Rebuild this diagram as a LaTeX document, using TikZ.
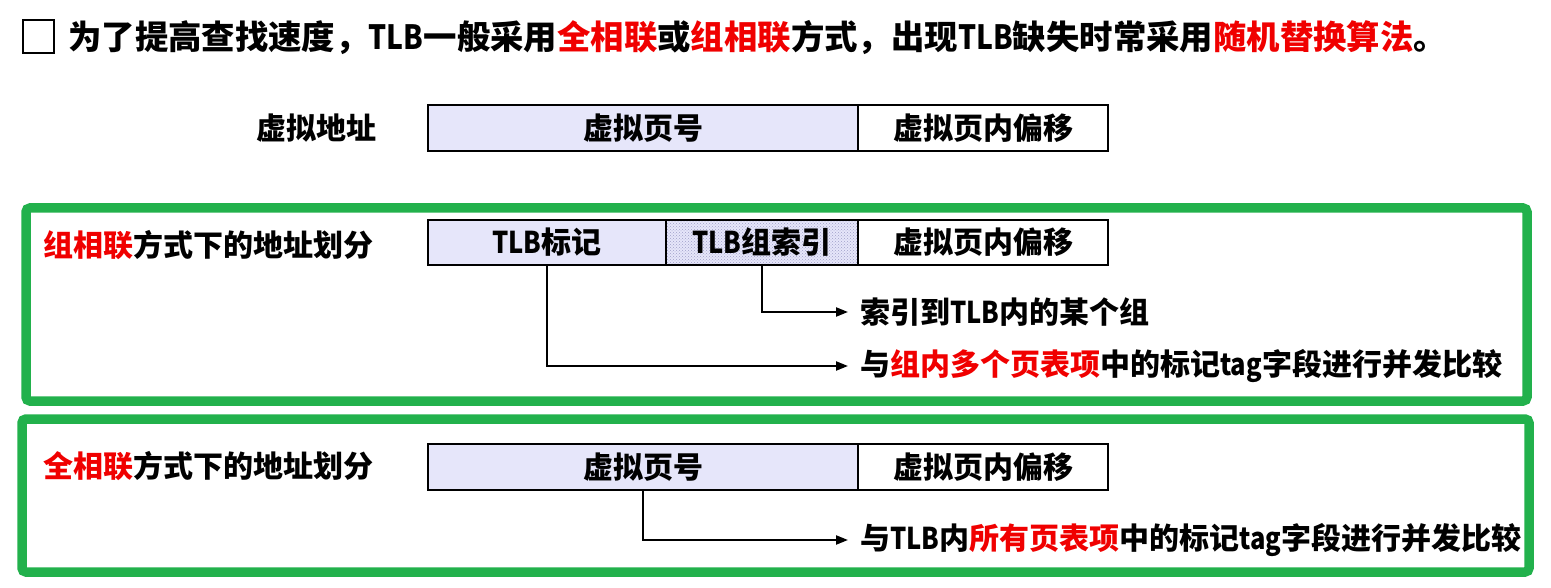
\documentclass[tikz,border=0pt]{standalone}
\usepackage{fontspec}
\usepackage{graphicx}
\setmainfont{Noto Sans CJK SC}
\usetikzlibrary{arrows.meta,patterns}
\definecolor{grn}{RGB}{34,177,76}
\definecolor{rd}{RGB}{240,0,0}
\definecolor{lav}{RGB}{230,230,250}
\definecolor{dotc}{RGB}{160,160,200}
\newcommand{\R}[1]{\textcolor{rd}{#1}}
\newcommand{\N}[1]{\scalebox{0.85}[1]{#1}}
\begin{document}
\begin{tikzpicture}[x=1pt,y=-1pt,
  txt/.style={font=\fontsize{30}{36}\selectfont\bfseries, inner sep=0pt},
  ttl/.style={font=\fontsize{33.4}{40}\selectfont\bfseries, inner sep=0pt},
  cell/.style={txt, draw=black, line width=2.2pt, minimum height=46pt},
  gbox/.style={draw=grn, line width=9.5pt, rounded corners=4pt},
  arr/.style={line width=2.2pt, -{Triangle[length=12pt,width=9pt]}}]
\useasboundingbox (0,0) rectangle (1551,588);
\fill[white] (0,0) rectangle (1551,588);
% title
\draw[line width=2pt] (23,20) rectangle (54,53);
\node[ttl, anchor=west] (title) at (68,38) {为了提高查找速度，\N{TLB}一般采用\R{全相联}或\R{组相联}方式，出现\N{TLB}缺失时常采用\R{随机替换算法}。};
% row 1
\node[txt, anchor=east] (l1) at (377,128) {虚拟地址};
\node[cell, fill=lav, minimum width=430pt] (c11) at (643,128) {虚拟页号};
\node[cell, minimum width=250pt] (c12) at (983,128) {虚拟页内偏移};
% green boxes
\draw[gbox] (26,208) rectangle (1527,401);
\draw[gbox] (22,419) rectangle (1529,572);
% row 2
\node[txt, anchor=west] (l2) at (43,245) {\R{组相联}方式下的地址划分};
\node[cell, fill=lav, minimum width=238pt, minimum height=45pt] (c21) at (547,242.5) {\N{TLB}标记};
\node[cell, minimum width=192pt, minimum height=45pt, preaction={fill=lav}, pattern=crosshatch dots, pattern color=dotc] (c22) at (762,242.5) {\N{TLB}组索引};
\node[cell, minimum width=250pt, minimum height=45pt] (c23) at (983,242.5) {虚拟页内偏移};
\node[txt, anchor=west] (t1) at (860,312) {索引到\N{TLB}内的某个组};
\node[txt, anchor=west] (t2) at (860,366) {与\R{组内多个页表项}中的标记\N{tag}字段进行并发比较};
\draw[arr] (c22.south) |- ([xshift=-12pt]t1.west);
\draw[arr] (c21.south) |- ([xshift=-12pt]t2.west);
% row 3
\node[txt, anchor=west] (l3) at (43,466) {\R{全相联}方式下的地址划分};
\node[cell, fill=lav, minimum width=430pt] (c31) at (643,467) {虚拟页号};
\node[cell, minimum width=250pt] (c32) at (983,467) {虚拟页内偏移};
\node[txt, anchor=west] (t3) at (860,540) {与\N{TLB}内\R{所有页表项}中的标记\N{tag}字段进行并发比较};
\draw[arr] (c31.south) |- ([xshift=-12pt]t3.west);
\end{tikzpicture}
\end{document}
